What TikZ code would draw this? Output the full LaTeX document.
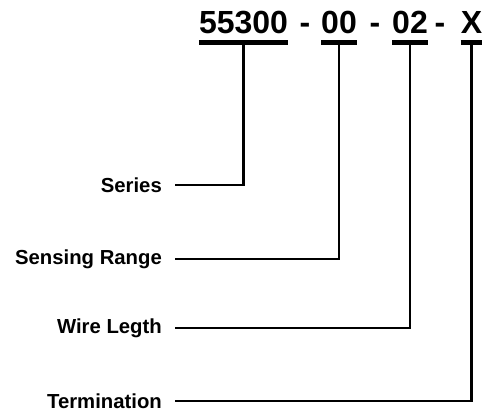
\documentclass[tikz,border=0pt]{standalone}
\usepackage{fontspec}
\setmainfont{Liberation Sans}
\usetikzlibrary{calc}

\begin{document}
\begin{tikzpicture}[x=1pt, y=-1pt,
  code/.style={inner sep=0pt, anchor=base, font=\bfseries\fontsize{32}{36}\selectfont},
  field/.style={inner ysep=0pt, inner xsep=13pt, anchor=east, font=\bfseries\fontsize{20.3}{24}\selectfont},
  uline/.style={line width=4.8pt},
  lead/.style={line width=2.2pt}
]
\useasboundingbox (0,0) rectangle (484,412);

% Part number
\node[code] (ser) at (243.5,34) {55300};
\node[code] (d1) at (305,34) {-};
\node[code] (rng) at (339,34) {00};
\node[code] (d2) at (375,34) {-};
\node[code] (wir) at (410,34) {02};
\node[code] (d3) at (440,34) {-};
\node[code] (trm) at (471.5,34) {X};

% Underlines
\foreach \p in {ser,rng,wir,trm} {
  \draw[uline] ($(\p.base west)+(0,8.5)$) -- ($(\p.base east)+(0,8.5)$);
  \coordinate (\p-u) at ($(\p.base)+(0,10)$);
}

% Field names
\node[field] (lser) at (175,185) {Series};
\node[field] (lrng) at (175,259) {Sensing Range};
\node[field] (lwir) at (175,328) {Wire Legth};
\node[field] (ltrm) at (175,401) {Termination};

\draw[lead] (lser.east) -| (ser-u);
\draw[lead] (lrng.east) -| (rng-u);
\draw[lead] (lwir.east) -| (wir-u);
\draw[lead] (ltrm.east) -| (trm-u);
\end{tikzpicture}
\end{document}
